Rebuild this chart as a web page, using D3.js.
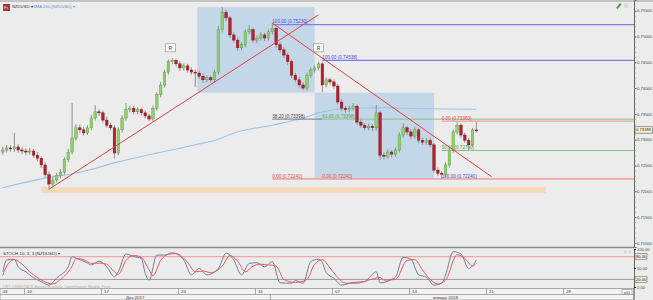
<!DOCTYPE html>
<html>
<head>
<meta charset="utf-8">
<script src="https://cdn.jsdelivr.net/npm/d3@7"></script>
<style>
body { margin: 0; background: #ececec; }
svg { display: block; font-family: "Liberation Sans", Arial, sans-serif; }
</style>
</head>
<body>
<div id="chart"></div>
<script>
// NZDUSD candles (6h)
var opens = [
  0.7276, 0.7280, 0.7284, 0.7282, 0.7286, 0.7280, 0.7278, 0.7276, 0.7278, 0.7270,
  0.7264, 0.7251, 0.7232, 0.7214, 0.7222, 0.7230, 0.7237, 0.7261, 0.7276, 0.7303,
  0.7323, 0.7319, 0.7313, 0.7323, 0.7342, 0.7354, 0.7352, 0.7338, 0.7328, 0.7323,
  0.7274, 0.7319, 0.7342, 0.7358, 0.7361, 0.7354, 0.7358, 0.7352, 0.7346, 0.7340,
  0.7361, 0.7387, 0.7406, 0.7431, 0.7451, 0.7454, 0.7447, 0.7439, 0.7443, 0.7435,
  0.7431, 0.7429, 0.7423, 0.7416, 0.7420, 0.7416, 0.7431, 0.7513, 0.7547, 0.7536,
  0.7503, 0.7493, 0.7478, 0.7484, 0.7509, 0.7513, 0.7493, 0.7497, 0.7503, 0.7497,
  0.7509, 0.7516, 0.7484, 0.7474, 0.7464, 0.7451, 0.7425, 0.7416, 0.7406, 0.7400,
  0.7425, 0.7435, 0.7439, 0.7447, 0.7406, 0.7416, 0.7412, 0.7404, 0.7373, 0.7361,
  0.7358, 0.7361, 0.7365, 0.7334, 0.7328, 0.7323, 0.7326, 0.7323, 0.7352, 0.7270,
  0.7268, 0.7276, 0.7272, 0.7280, 0.7309, 0.7323, 0.7315, 0.7307, 0.7319, 0.7299,
  0.7295, 0.7299, 0.7290, 0.7241, 0.7235, 0.7233, 0.7251, 0.7280, 0.7315, 0.7328,
  0.7309, 0.7299, 0.7290, 0.7319
];
var highs = [
  0.7286, 0.7290, 0.7289, 0.7313, 0.7291, 0.7285, 0.7283, 0.7284, 0.7282, 0.7276,
  0.7268, 0.7256, 0.7238, 0.7228, 0.7236, 0.7243, 0.7266, 0.7282, 0.7371, 0.7330,
  0.7329, 0.7325, 0.7328, 0.7348, 0.7367, 0.7359, 0.7356, 0.7344, 0.7333, 0.7328,
  0.7324, 0.7347, 0.7371, 0.7366, 0.7366, 0.7363, 0.7362, 0.7357, 0.7350, 0.7366,
  0.7392, 0.7412, 0.7436, 0.7456, 0.7458, 0.7457, 0.7452, 0.7448, 0.7447, 0.7440,
  0.7436, 0.7434, 0.7428, 0.7425, 0.7424, 0.7436, 0.7520, 0.7557, 0.7552, 0.7540,
  0.7508, 0.7498, 0.7490, 0.7514, 0.7522, 0.7517, 0.7502, 0.7508, 0.7507, 0.7514,
  0.7526, 0.7519, 0.7489, 0.7479, 0.7469, 0.7455, 0.7430, 0.7421, 0.7411, 0.7430,
  0.7440, 0.7444, 0.7451, 0.7450, 0.7421, 0.7420, 0.7417, 0.7408, 0.7378, 0.7366,
  0.7366, 0.7371, 0.7368, 0.7339, 0.7332, 0.7331, 0.7330, 0.7367, 0.7356, 0.7275,
  0.7281, 0.7280, 0.7285, 0.7314, 0.7332, 0.7327, 0.7320, 0.7325, 0.7322, 0.7304,
  0.7303, 0.7304, 0.7294, 0.7246, 0.7239, 0.7256, 0.7285, 0.7320, 0.7334, 0.7332,
  0.7313, 0.7303, 0.7323, 0.7334
];
var lows = [
  0.7271, 0.7275, 0.7277, 0.7276, 0.7274, 0.7272, 0.7270, 0.7271, 0.7265, 0.7258,
  0.7245, 0.7227, 0.7204, 0.7209, 0.7217, 0.7225, 0.7232, 0.7256, 0.7271, 0.7298,
  0.7314, 0.7308, 0.7309, 0.7318, 0.7337, 0.7346, 0.7333, 0.7323, 0.7318, 0.7264,
  0.7270, 0.7314, 0.7337, 0.7353, 0.7349, 0.7349, 0.7347, 0.7341, 0.7336, 0.7335,
  0.7356, 0.7382, 0.7401, 0.7426, 0.7446, 0.7442, 0.7433, 0.7434, 0.7430, 0.7426,
  0.7402, 0.7418, 0.7410, 0.7411, 0.7411, 0.7411, 0.7426, 0.7508, 0.7530, 0.7497,
  0.7488, 0.7472, 0.7473, 0.7479, 0.7504, 0.7488, 0.7487, 0.7492, 0.7491, 0.7492,
  0.7504, 0.7478, 0.7469, 0.7458, 0.7445, 0.7419, 0.7411, 0.7401, 0.7396, 0.7395,
  0.7420, 0.7430, 0.7434, 0.7392, 0.7401, 0.7407, 0.7399, 0.7368, 0.7356, 0.7352,
  0.7353, 0.7356, 0.7329, 0.7323, 0.7318, 0.7318, 0.7317, 0.7318, 0.7261, 0.7262,
  0.7263, 0.7266, 0.7267, 0.7275, 0.7304, 0.7309, 0.7301, 0.7302, 0.7294, 0.7290,
  0.7290, 0.7285, 0.7236, 0.7229, 0.7224, 0.7228, 0.7246, 0.7275, 0.7310, 0.7304,
  0.7294, 0.7280, 0.7286, 0.7314
];
var closes = [
  0.7280, 0.7284, 0.7282, 0.7286, 0.7280, 0.7278, 0.7276, 0.7278, 0.7270, 0.7264,
  0.7251, 0.7232, 0.7214, 0.7222, 0.7230, 0.7237, 0.7261, 0.7276, 0.7303, 0.7323,
  0.7319, 0.7313, 0.7323, 0.7342, 0.7354, 0.7352, 0.7338, 0.7328, 0.7323, 0.7274,
  0.7319, 0.7342, 0.7358, 0.7361, 0.7354, 0.7358, 0.7352, 0.7346, 0.7340, 0.7361,
  0.7387, 0.7406, 0.7431, 0.7451, 0.7454, 0.7447, 0.7439, 0.7443, 0.7435, 0.7431,
  0.7429, 0.7423, 0.7416, 0.7420, 0.7416, 0.7431, 0.7513, 0.7547, 0.7536, 0.7503,
  0.7493, 0.7478, 0.7484, 0.7509, 0.7513, 0.7493, 0.7497, 0.7503, 0.7497, 0.7509,
  0.7516, 0.7484, 0.7474, 0.7464, 0.7451, 0.7425, 0.7416, 0.7406, 0.7400, 0.7425,
  0.7435, 0.7439, 0.7447, 0.7406, 0.7416, 0.7412, 0.7404, 0.7373, 0.7361, 0.7358,
  0.7361, 0.7365, 0.7334, 0.7328, 0.7323, 0.7326, 0.7323, 0.7352, 0.7270, 0.7268,
  0.7276, 0.7272, 0.7280, 0.7309, 0.7323, 0.7315, 0.7307, 0.7319, 0.7299, 0.7295,
  0.7299, 0.7290, 0.7241, 0.7235, 0.7233, 0.7251, 0.7280, 0.7315, 0.7328, 0.7309,
  0.7299, 0.7290, 0.7319, 0.73188
];

// SMA 200
var smaIdx  = [0, 10, 20, 30, 40, 50, 56, 60, 70, 78, 82, 86, 90, 100, 110, 123];
var smaVals = [0.7207, 0.7224, 0.7237, 0.7257, 0.7274, 0.7290, 0.7301, 0.7313, 0.7328,
               0.7342, 0.7352, 0.7358, 0.7361, 0.7362, 0.7360, 0.7359];

// Stochastic 10,3,3
var kIdx  = [0, 1, 3, 4, 6, 8, 10, 12, 14, 17, 18, 19, 22, 23, 25, 27, 29, 30, 32, 34, 36, 37, 38, 40,
             42, 44, 47, 49, 51, 53, 56, 58, 60, 62, 64, 66, 68, 70, 72, 75, 76, 78, 80, 82, 83, 84,
             86, 88, 91, 94, 95, 97, 98, 101, 102, 104, 106, 108, 110, 112, 114, 115, 117, 119, 121, 123];
var kVals = [40, 71, 73, 53, 40, 24, 14, 5, 24, 53, 80, 76, 63, 58, 68, 53, 27, 40, 87, 80, 75, 36, 18, 84,
             84, 90, 71, 32, 49, 32, 49, 89, 71, 32, 62, 64, 53, 67, 11, 10, 17, 10, 67, 73, 65, 38,
             23, 5, 12, 14, 23, 40, 11, 20, 26, 78, 73, 32, 26, 5, 10, 32, 93, 87, 49, 71];
var dIdx  = [0, 1, 3, 5, 7, 9, 11, 13, 15, 18, 19, 21, 23, 25, 27, 29, 30, 32, 34, 36, 38, 39, 41, 43,
             45, 48, 50, 52, 54, 57, 59, 61, 63, 65, 67, 69, 71, 73, 76, 77, 79, 81, 83, 85, 87, 89,
             92, 95, 98, 99, 102, 105, 107, 109, 111, 113, 115, 118, 120, 122, 123];
var dVals = [30, 55, 72, 60, 40, 25, 13, 8, 20, 55, 75, 72, 62, 63, 60, 40, 33, 70, 83, 78, 45, 30, 70, 86,
             88, 65, 40, 42, 38, 55, 83, 68, 40, 55, 60, 58, 55, 20, 12, 13, 20, 60, 72, 50, 25, 10,
             10, 18, 25, 18, 20, 70, 72, 45, 20, 8, 18, 85, 75, 55, 62];

// Fibonacci levels
var fibNames  = ["100.00", "100.00", "38.20", "61.80", "0.00", "50.00", "0.00", "0.00", "100.00"];
var fibPrices = [0.75230, 0.74538, 0.73398, 0.73398, 0.73360, 0.72790, 0.72240, 0.72240, 0.72240];
var fibFrom   = [70, 83, 70, 83, 114, 114, 70, 83, 114];
var fibTo     = [165, 165, 83, 165, 165, 165, 165, 83, 114];

// ticks and labels
var priceTicks = [0.755, 0.750, 0.745, 0.740, 0.735, 0.730, 0.725, 0.720, 0.715, 0.710];
var stochTicks = [100, 50, 0];
var stochLevels = [80, 20];
var weekIdx = [-14.5, 5.5, 25.5, 45.5, 65.5, 85.5, 105.5, 125.5, 145.5];
var weekLabels = ["03", "10", "17", "24", "31", "07", "14", "21", "28"];
var monthIdx = [-100, 69.5, 160.4];
var monthLabels = ["Дек 2017", "январь 2018"];

function main() {
    var W = 653, H = 300;
    var plotR = 634, mainB = 247;
    var axisFont = "4.1px";

    var svg = d3.select("#chart").append("svg")
        .attr("width", W)
        .attr("height", H);

    svg.append("rect").attr("width", W).attr("height", H).attr("fill", "#ececec");

    var x = d3.scaleLinear().domain([0, 123]).range([2.8, 476.35]);
    var y = d3.scaleLinear().domain([0.7092, 0.75707]).range([mainB, 0]);
    var ys = d3.scaleLinear().domain([0, 100]).range([287, 249]);

    var defs = svg.append("defs");
    defs.append("clipPath").attr("id", "clipMain")
        .append("rect").attr("x", 0).attr("y", 0).attr("width", plotR).attr("height", mainB);
    defs.append("clipPath").attr("id", "clipStoch")
        .append("rect").attr("x", 0).attr("y", 248).attr("width", plotR).attr("height", 40);

    // top strip
    svg.append("rect").attr("x", 0).attr("y", 0).attr("width", W).attr("height", 2).attr("fill", "#c4c4c4");

    var main_g = svg.append("g").attr("clip-path", "url(#clipMain)");

    // support band
    main_g.append("rect")
        .attr("x", x(10)).attr("width", x(141) - x(10))
        .attr("y", y(0.7208)).attr("height", y(0.7197) - y(0.7208))
        .attr("fill", "#f3d9b5");

    // shaded boxes
    var boxes = [[50.5, 81, 0.7557, 0.7391], [81, 112, 0.7391, 0.7222]];
    main_g.selectAll(".box").data(boxes).join("rect")
        .attr("class", "box")
        .attr("x", function(d){ return x(d[0]); })
        .attr("width", function(d){ return x(d[1]) - x(d[0]); })
        .attr("y", function(d){ return y(d[2]); })
        .attr("height", function(d){ return y(d[3]) - y(d[2]); })
        .attr("fill", "#c4d7e8");

    // SMA 200
    var sma = smaIdx.map(function(d, i){ return [d, smaVals[i]]; });
    main_g.append("path")
        .attr("d", d3.line().x(function(d){ return x(d[0]); }).y(function(d){ return y(d[1]); })
            .curve(d3.curveMonotoneX)(sma))
        .attr("fill", "none")
        .attr("stroke", "#9cc4e4")
        .attr("stroke-width", 1.1);

    // fib lines
    var fibLine = ["#7b7bf2", "#7b7bf2", "#777777", "#86c486", "#ee8a8a", "#86c486", "#f2a9a9", "none", "none"];
    var fibText = ["#4a4ae0", "#4a4ae0", "#444444", "#4e9e4e", "#e04848", "#4e9e4e", "#e04848", "#e04848", "#4a4ae0"];
    var fibWidth = [1.2, 1.2, 1, 1, 1, 1, 1.8, 0, 0];
    fibPrices.forEach(function(p, i){
        if (fibLine[i] !== "none") {
            main_g.append("line")
                .attr("x1", x(fibFrom[i])).attr("x2", x(fibTo[i]))
                .attr("y1", y(p)).attr("y2", y(p))
                .attr("stroke", fibLine[i])
                .attr("stroke-width", fibWidth[i]);
        }
        main_g.append("text")
            .attr("x", x(fibFrom[i]))
            .attr("y", y(p) - 1.2)
            .attr("font-size", "4.6px")
            .attr("fill", fibText[i])
            .text(fibNames[i] + " (" + p.toFixed(5) + ")");
    });

    // candles
    var candle = main_g.selectAll(".candle").data(closes).join("g").attr("class", "candle");
    candle.append("line")
        .attr("x1", function(d, i){ return x(i); })
        .attr("x2", function(d, i){ return x(i); })
        .attr("y1", function(d, i){ return y(highs[i]); })
        .attr("y2", function(d, i){ return y(lows[i]); })
        .attr("stroke", "#8e8e8e")
        .attr("stroke-width", 1);
    candle.append("rect")
        .attr("x", function(d, i){ return x(i) - 1.3; })
        .attr("width", 2.6)
        .attr("y", function(d, i){ return y(Math.max(opens[i], d)); })
        .attr("height", function(d, i){ return Math.max(1, Math.abs(y(opens[i]) - y(d))); })
        .attr("fill", function(d, i){ return d >= opens[i] ? "#8fd26c" : "#b4202c"; })
        .attr("stroke", function(d, i){ return d >= opens[i] ? "#4f9a3a" : "#7e1219"; })
        .attr("stroke-width", 0.4);

    // trend lines
    var trends = [[12, 0.7204, 82, 0.7542], [70, 0.7526, 127, 0.7228]];
    main_g.selectAll(".trend").data(trends).join("line")
        .attr("class", "trend")
        .attr("x1", function(d){ return x(d[0]); })
        .attr("y1", function(d){ return y(d[1]); })
        .attr("x2", function(d){ return x(d[2]); })
        .attr("y2", function(d){ return y(d[3]); })
        .attr("stroke", "#e8403a")
        .attr("stroke-width", 1);

    // R markers
    var marks = [[43.5, 0.7478], [82, 0.7478]];
    marks.forEach(function(m){
        var g = main_g.append("g").attr("transform", "translate(" + x(m[0]) + "," + y(m[1]) + ")");
        g.append("rect").attr("x", -5).attr("y", -4).attr("width", 10).attr("height", 8)
            .attr("fill", "#ffffff").attr("stroke", "#888").attr("stroke-width", 0.6);
        g.append("text").attr("text-anchor", "middle").attr("y", 1.8)
            .attr("font-size", "5px").attr("fill", "#333").text("R");
    });

    // header
    svg.append("rect").attr("x", 3).attr("y", 4).attr("width", 7).attr("height", 7).attr("fill", "#a83434");
    svg.append("text").attr("x", 4).attr("y", 9).attr("font-size", "3.5px").attr("fill", "#fff").text("Fx");
    svg.append("text").attr("x", 12).attr("y", 7.5).attr("font-size", "4.2px").attr("fill", "#333").text("NZDUSD ▾");
    svg.append("text").attr("x", 33).attr("y", 7.5).attr("font-size", "4.2px").attr("fill", "#5b8cd2").text("SMA 200 (NZDUSD) ▾");
    svg.append("path").attr("d", "M616,8 L620,3 L621.5,4.5 L617.5,9 Z").attr("fill", "#3ea43e");
    svg.append("circle").attr("cx", 626).attr("cy", 5.5).attr("r", 2).attr("fill", "#dcdcdc").attr("stroke", "#c8c8c8").attr("stroke-width", 0.5);

    // price axis
    var yAxisG = svg.append("g")
        .attr("transform", "translate(" + plotR + ",0)")
        .call(d3.axisRight(y).tickValues(priceTicks).tickSize(2.5)
            .tickFormat(function(d){ return d.toFixed(5).replace(".", ","); }));
    yAxisG.select(".domain").attr("stroke", "#666");
    yAxisG.selectAll(".tick line").attr("stroke", "#666");
    yAxisG.selectAll("text").attr("font-size", axisFont).attr("fill", "#444").attr("x", 3)
        .attr("font-family", "'Liberation Sans', Arial, sans-serif");
    svg.append("g")
        .attr("transform", "translate(" + plotR + ",0)")
        .call(d3.axisRight(y).tickValues(d3.range(0.710, 0.7566, 0.001)).tickSize(1.5).tickFormat(""))
        .call(function(g){ g.select(".domain").remove(); g.selectAll("line").attr("stroke", "#777"); });

    // last price marker
    var lastY = y(closes[closes.length - 1]);
    svg.append("rect").attr("x", plotR + 1).attr("y", lastY - 3.2).attr("width", 17.5).attr("height", 6.4)
        .attr("fill", "#f6f1d6").attr("stroke", "#555").attr("stroke-width", 0.6);
    svg.append("text").attr("x", plotR + 2).attr("y", lastY + 1.5).attr("font-size", axisFont).attr("fill", "#222")
        .text(closes[closes.length - 1].toFixed(5).replace(".", ","));

    // panel separator
    svg.append("line").attr("x1", 0).attr("x2", plotR).attr("y1", 247.5).attr("y2", 247.5)
        .attr("stroke", "#8a8a8a").attr("stroke-width", 1.6);

    // stochastic panel
    var st = svg.append("g").attr("clip-path", "url(#clipStoch)");
    st.append("line").attr("x1", 0).attr("x2", plotR).attr("y1", ys(stochLevels[0])).attr("y2", ys(stochLevels[0]))
        .attr("stroke", "#f0a8a8").attr("stroke-width", 1.4);
    st.append("line").attr("x1", 0).attr("x2", plotR).attr("y1", ys(stochLevels[1])).attr("y2", ys(stochLevels[1]))
        .attr("stroke", "#9a9a9a").attr("stroke-width", 1);

    var kLine = kIdx.map(function(d, i){ return [d, kVals[i]]; });
    var dLine = dIdx.map(function(d, i){ return [d, dVals[i]]; });
    var lineGen = d3.line().x(function(d){ return x(d[0]); }).y(function(d){ return ys(d[1]); }).curve(d3.curveMonotoneX);
    st.append("path").attr("d", lineGen(kLine)).attr("fill", "none").attr("stroke", "#6e7fa3").attr("stroke-width", 1);
    st.append("path").attr("d", lineGen(dLine)).attr("fill", "none").attr("stroke", "#ec5a5a").attr("stroke-width", 1);

    svg.append("text").attr("x", 3).attr("y", 255).attr("font-size", "4.4px").attr("fill", "#333")
        .text("STOCH 10, 3, 3 (NZDUSD) ▾");
    svg.append("text").attr("x", 3).attr("y", 287.5).attr("font-size", "3.8px").attr("fill", "#b0b0b0")
        .text("CET ORIENTACE    Bourse Brussels, Copenhagen, Madrid, Paris");

    var sAxis = svg.append("g")
        .attr("transform", "translate(" + plotR + ",0)")
        .call(d3.axisRight(ys).tickValues(stochTicks).tickSize(2)
            .tickFormat(function(d){ return d.toFixed(2).replace(".", ","); }));
    sAxis.select(".domain").attr("stroke", "#666");
    sAxis.selectAll("text").attr("font-size", axisFont).attr("fill", "#444").attr("x", 3);
    stochLevels.forEach(function(v){
        svg.append("rect").attr("x", plotR + 1).attr("y", ys(v) - 3).attr("width", 12).attr("height", 6)
            .attr("fill", "#f6f1d6").attr("stroke", "#555").attr("stroke-width", 0.5);
        svg.append("text").attr("x", plotR + 2).attr("y", ys(v) + 1.5).attr("font-size", axisFont).attr("fill", "#222")
            .text(v.toFixed(2).replace(".", ","));
    });
    svg.append("rect").attr("x", 624).attr("y", 250.5).attr("width", 3).attr("height", 3).attr("fill", "#d5dce6");
    svg.append("rect").attr("x", 628.5).attr("y", 250.5).attr("width", 3).attr("height", 3).attr("fill", "#d5dce6");

    // date axis
    svg.append("rect").attr("x", 0).attr("y", 288.5).attr("width", plotR).attr("height", 11.5)
        .attr("fill", "#f3f3f3").attr("stroke", "#8a8a8a").attr("stroke-width", 0.7);
    svg.append("line").attr("x1", 0).attr("x2", plotR).attr("y1", 294.5).attr("y2", 294.5)
        .attr("stroke", "#8a8a8a").attr("stroke-width", 0.7);

    var wAxis = svg.append("g")
        .attr("transform", "translate(0,288.5)")
        .call(d3.axisBottom(x).tickValues(weekIdx).tickSize(6)
            .tickFormat(function(d, i){ return weekLabels[i]; }));
    wAxis.select(".domain").remove();
    wAxis.selectAll(".tick line").attr("stroke", "#8a8a8a").attr("stroke-width", 0.7);
    wAxis.selectAll("text").attr("text-anchor", "start").attr("x", 2.5).attr("y", 1.2).attr("dy", "0.75em")
        .attr("font-size", "4.4px").attr("fill", "#333");
    wAxis.selectAll(".tick").filter(function(d){ return x(d) < 0; })
        .attr("transform", "translate(0,0)")
        .select("line").remove();
    wAxis.selectAll(".tick").filter(function(d){ return x(d) > plotR; }).remove();

    svg.append("g").attr("transform", "translate(0,294.5)")
        .selectAll("line").data(monthIdx.slice(1, 2)).join("line")
        .attr("x1", function(d){ return x(d); }).attr("x2", function(d){ return x(d); })
        .attr("y1", 0).attr("y2", 6).attr("stroke", "#8a8a8a").attr("stroke-width", 0.7);
    monthLabels.forEach(function(lbl, i){
        var a = Math.max(0, x(monthIdx[i]));
        var b = Math.min(622, x(monthIdx[i + 1]));
        svg.append("text").attr("x", (a + b) / 2).attr("y", 299.2).attr("text-anchor", "middle")
            .attr("font-size", "4.4px").attr("fill", "#333").text(lbl);
    });
    svg.append("rect").attr("x", 622).attr("y", 289.5).attr("width", 10).attr("height", 5)
        .attr("fill", "#fafafa").attr("stroke", "#777").attr("stroke-width", 0.5);
    svg.append("text").attr("x", 627).attr("y", 293.5).attr("text-anchor", "middle")
        .attr("font-size", "3.6px").attr("fill", "#333").text("wk1");
    svg.append("line").attr("x1", plotR).attr("x2", plotR).attr("y1", 288).attr("y2", 300)
        .attr("stroke", "#666").attr("stroke-width", 1);
}
main();
</script>
</body>
</html>
